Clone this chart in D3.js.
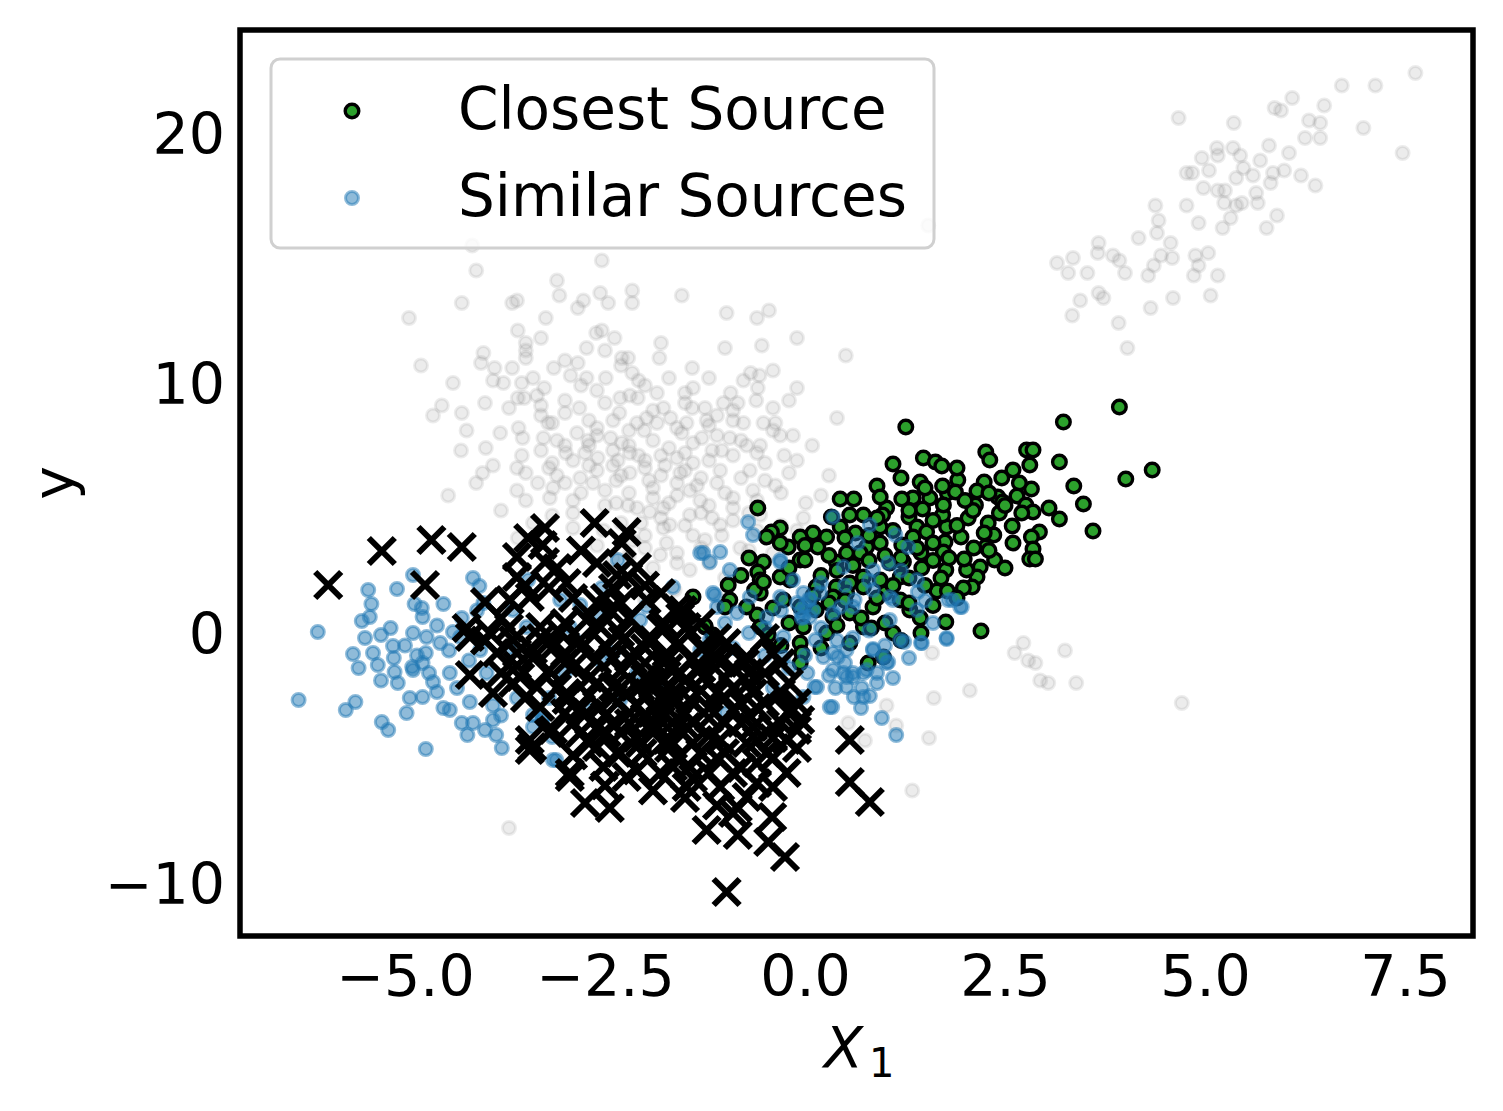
<!DOCTYPE html>
<html>
<head>
<meta charset="utf-8">
<script src="https://cdn.jsdelivr.net/npm/d3@7"></script>
<style>
  body { margin: 0; background: #fff; }
  text { font-family: "DejaVu Sans", sans-serif; }
</style>
</head>
<body>
<svg id="chart"></svg>
<script>
// tick values
const xTicks = [-5, -2.5, 0, 2.5, 5, 7.5];
const yTicks = [-10, 0, 10, 20];
const legendLabels = ["Closest Source", "Similar Sources"];

// all sources (grey background)
const otherPts = [
  // upper right arm
  [7.63,22.4],[6.71,21.9],[7.13,21.9],[6.09,21.4],[6.49,21.1],[5.87,21.0],[5.95,20.9],[4.67,20.6],[5.36,20.4],[6.3,20.5],
  [6.44,20.4],[6.98,20.2],[6.25,19.8],[6.44,19.8],[5.8,19.5],[5.15,19.4],[5.35,19.4],[7.47,19.2],[4.96,19.0],[5.16,19.1],
  [5.44,19.1],[6.05,19.2],[5.69,18.9],[4.77,18.4],[4.84,18.4],[5.05,18.5],[5.48,18.6],[5.85,18.4],[5.99,18.5],[5.39,18.2],
  [5.6,18.3],[6.2,18.3],[6.38,17.9],[5.82,18.0],[4.98,17.8],[5.16,17.7],[5.25,17.7],[5.64,17.6],[5.24,17.2],[5.39,17.1],
  [5.46,17.2],[5.66,17.2],[4.38,17.1],[4.77,17.1],[4.42,16.5],[5.32,16.6],[5.9,16.7],[4.92,16.4],[5.22,16.2],[5.77,16.2],
  [4.4,16.0],[4.17,15.8],[3.67,15.6],[4.57,15.6],[3.66,15.2],[3.85,15.1],[3.93,14.9],[4.45,15.1],[4.59,15.0],[4.88,15.1],
  [5.04,15.2],[3.15,14.8],[3.35,15.0],[3.29,14.4],[3.53,14.4],[4.0,14.4],[4.36,14.7],[4.92,14.7],[4.29,14.3],[4.86,14.3],
  [5.16,14.3],[3.67,13.6],[3.73,13.4],[3.44,13.3],[4.6,13.4],[5.07,13.5],[4.32,13.0],[3.34,12.7],[3.92,12.4],[1.54,16.3],
  [4.03,11.4],
  // lower right
  [2.73,-0.4],[2.62,-0.8],[2.79,-1.1],[2.88,-1.2],[3.25,-0.7],[2.94,-1.9],[3.04,-2.0],[3.39,-2.0],[2.06,-2.3],[1.61,-2.6],
  [1.59,-0.8],[4.71,-2.8],[1.02,-2.9],[1.14,-3.7],[1.55,-4.2],[1.34,-6.3],[0.75,-4.3],[0.54,-3.6],
  // main cloud
  [-4.11,14.5],[-3.1,14.1],[-3.07,13.5],[-4.95,12.6],[-4.29,13.2],[-3.66,13.2],[-3.6,13.3],[-3.24,12.6],[-2.84,13.0],[-2.77,13.3],
  [-2.56,13.6],[-2.46,13.2],[-2.16,13.7],[-2.16,13.2],[-1.54,13.5],[-0.98,12.8],[-0.6,12.6],[-0.45,12.9],[-0.1,11.8],[-1.0,11.4],
  [-0.54,11.5],[0.51,11.1],[-3.59,12.1],[-3.49,11.6],[-3.49,11.3],[-3.49,11.0],[-4.02,11.2],[-4.05,10.8],[-3.88,10.6],[-3.9,10.1],
  [-3.77,10.0],[-3.66,10.6],[-3.4,10.2],[-3.54,10.0],[-3.26,9.8],[-3.14,10.6],[-2.93,10.3],[-2.84,10.8],[-2.73,11.4],[-2.73,10.2],
  [-2.61,12.0],[-2.54,12.1],[-2.38,11.8],[-2.5,11.3],[-2.49,10.2],[-2.29,11.0],[-2.21,11.0],[-2.16,10.4],[-2.08,10.1],[-1.82,11.0],
  [-1.41,10.6],[-1.4,9.8],[-1.5,9.6],[-0.77,10.1],[-0.68,10.4],[-0.57,10.3],[-0.4,10.5],[-0.59,9.8],[-0.1,9.8],[-0.2,9.3],
  [-0.93,9.6],[-0.61,9.3],[-1.02,9.2],[-0.84,9.2],[-3.51,9.4],[-3.59,9.4],[-3.35,9.5],[-3.0,9.3],[-2.82,9.0],[-4.0,9.2],
  [-4.54,9.1],[-4.65,8.7],[-4.29,8.8],[-4.23,8.1],[-3.81,8.0],[-3.99,7.4],[-3.58,8.2],[-3.53,7.8],[-4.03,6.4],[-4.11,6.0],
  [-4.46,5.5],[-3.6,5.7],[-3.49,5.3],[-3.54,7.1],[-3.49,6.4],[-3.34,6.0],[-3.16,8.4],[-3.21,8.4],[-3.27,7.8],[-3.1,7.7],
  [-2.85,8.0],[-2.99,7.2],[-3.16,6.8],[-2.6,8.2],[-2.71,7.7],[-2.75,7.2],[-2.59,7.0],[-2.5,9.2],[-2.32,8.8],[-2.31,9.4],
  [-2.19,9.5],[-2.09,9.4],[-1.85,9.6],[-1.77,9.0],[-1.98,8.6],[-1.85,8.4],[-2.01,8.1],[-1.68,8.6],[-2.43,7.8],[-2.29,7.6],
  [-2.08,7.1],[-2.19,7.2],[-2.34,6.9],[-2.36,6.1],[-2.81,6.2],[-2.65,6.0],[-3.0,6.0],[-3.15,5.8],[-3.19,5.4],[-2.19,6.4],
  [-2.36,5.2],[-2.21,5.1],[-2.0,6.6],[-1.9,5.8],[-1.77,5.0],[-1.6,7.0],[-1.54,8.0],[-1.48,8.4],[-1.41,9.0],[-1.25,9.0],
  [-1.23,8.5],[-1.29,7.8],[-1.16,7.3],[-1.4,6.8],[-1.56,6.4],[-1.44,5.7],[-1.31,5.3],[-1.06,6.5],[-1.04,7.3],[-0.94,7.8],
  [-0.9,8.5],[-0.77,8.4],[-0.73,7.5],[-0.56,7.5],[-0.5,6.8],[-0.69,6.5],[-0.52,8.4],[-0.37,8.4],[-0.31,7.9],[-0.15,7.9],
  [0.09,7.5],[-0.26,7.1],[-0.37,5.9],[-0.65,5.7],[-0.9,5.4],[0.01,5.2],[-0.02,4.6],[-1.16,4.6],[-1.04,3.9],[-1.77,4.2],
  [-1.73,3.6],[-2.15,3.7],[-2.9,4.8],[-3.16,4.7],[-2.52,4.1],[-3.59,3.8],[-4.16,15.5],[-2.54,14.9],[-3.7,-7.8],
  [-1.94,4.84],[-1.69,4.32],[-1.44,4.72],[-1.25,3.72],[-1.06,4.32],[-0.81,3.4],[-1.81,3.12],[-1.44,2.52],[-0.56,4.72],
  [-0.31,3.72],[-1.63,1.72],[-1.06,1.32],[-2.0,1.32],
  [-3.2,6.6],[-2.9,6.9],[-2.6,6.5],[-2.4,6.7],[-2.0,6.9],[-1.8,6.3],[-1.6,6.0],[-1.3,6.2],[-1.1,6.0],[-0.8,6.2],
  [-2.8,5.6],[-2.5,5.7],[-2.2,5.6],[-1.9,5.4],[-1.6,5.5],[-1.2,5.1],[-0.9,5.0],[-0.6,5.3],[-0.3,5.6],[-0.2,6.4],
  [-3.0,7.5],[-2.7,7.5],[-2.4,7.3],[-2.2,8.1],[-1.9,7.7],[-1.7,7.4],[-1.4,7.6],[-1.1,7.9],[-0.9,7.1],[-0.6,7.2],
  [-3.3,8.7],[-3.0,8.8],[-2.7,8.5],[-2.1,8.4],[-1.6,8.2],[-1.2,8.3],[-0.9,8.9],[-0.4,9.0],[-2.6,9.7],[-2.0,9.9],
  [-1.7,10.2],[-1.2,10.2],[-3.0,10.9],[-2.3,10.7],[-1.8,11.6],[-3.3,11.8],
  [-2.9,4.2],[-2.6,3.5],[-2.3,4.4],[-2.0,3.9],[-1.6,3.2],[-1.4,3.9],[-1.2,2.8],[-0.9,4.5],[-0.6,4.1],[-0.3,4.3],
  [-3.4,4.4],[-3.8,4.9],[-3.9,6.7],[-4.3,7.3],[-3.7,9.0],[-4.4,10.0],[-4.8,10.7],[-0.1,6.9],[0.3,6.3],[0.4,8.6],
  [-1.9,2.6],[-2.2,3.1],[-1.0,2.2],[-0.7,3.3],
  [-2.1,5.0],[-1.95,6.1],[-1.75,6.7],[-1.5,6.5],[-1.35,5.9],[-1.7,5.2],[-2.05,4.4],[-1.8,4.6],[-1.5,4.3],[-1.3,4.8],
  [-2.3,6.3],[-2.5,5.1],[-2.7,6.7],[-2.4,8.5],[-1.9,8.9],[-1.5,9.2],[-1.1,8.7],[-0.8,7.7],[-0.5,6.1],[-0.7,4.8],
  [-1.0,5.6],[-1.2,6.9],[-1.5,7.2],[-1.8,7.1],[-2.2,7.5],[-2.6,7.9],[-2.9,5.3],[-3.1,6.3],[-3.3,7.3],[-3.6,6.6],
  [-2.0,3.4],[-1.6,2.8],[-1.3,3.4],[-2.4,3.0],[-0.4,3.2],[-0.1,4.1],[0.2,5.5],[-0.4,8.1],[-2.8,9.9],[-3.3,9.1]
];

// similar sources (blue)
const similarPts = [
  [-4.9,2.32],[-5.46,1.72],[-5.1,1.76],[-5.42,1.16],[-5.54,0.48],[-5.44,0.64],[-6.09,0.04],[-5.3,-0.08],[-5.18,0.2],[-5.15,-0.52],
  [-5.65,-0.84],[-5.4,-0.8],[-5.58,-1.4],[-5.34,-1.28],[-5.14,-1.0],[-5.13,-1.56],[-5.09,-2.0],[-4.91,-1.36],[-6.33,-2.68],[-5.74,-3.08],
  [-5.62,-2.76],[-5.29,-3.56],[-5.21,-3.88],[-4.98,-3.2],[-4.94,-2.6],[-4.74,-4.64],[-4.88,1.16],[-4.79,1.0],[-4.78,0.64],[-4.52,1.16],
  [-4.9,0.0],[-4.73,-0.16],[-4.74,-0.8],[-4.56,-0.4],[-4.9,-1.48],[-4.78,-1.2],[-4.65,-1.96],[-4.78,-2.56],[-4.6,-2.36],[-4.52,-3.0],
  [-4.44,-3.08],[-4.31,-0.16],[-4.29,0.6],[-4.4,0.04],[-4.44,-1.6],[-4.29,-3.6],[-4.22,-4.08],[-4.15,-3.6],[-4.0,-3.88],[-4.19,-2.76],
  [-3.9,-3.48],[-3.86,-4.08],[-3.79,-4.6],[-4.15,2.2],[-4.07,1.88],[-4.02,1.2],[-4.06,-0.68],[-3.98,-1.6],[-3.65,0.92],[-3.48,0.24],
  [-3.46,2.12],[-2.34,2.92],[-1.65,1.84],[-2.54,1.8],[-2.81,1.12],[-1.98,1.08],[-3.4,-3.28],[-3.16,-4.16],[-3.11,-5.08],[-3.28,-3.48],
  [-2.94,0.24],
  [-5.0,-0.5],[-4.85,-0.9],[-4.7,-1.6],[-4.6,0.3],[-4.45,-0.7],[-4.35,-2.2],[-4.2,-1.1],[-4.1,0.9],[-3.9,-2.9],[-3.7,-0.6],
  [-3.6,-2.6],[-3.8,-3.3],[-3.2,-2.6],[-3.0,-1.6],[-2.7,-3.1],[-2.6,0.8],[-2.4,-0.8],[-2.1,-1.6],[-5.3,-1.9],[-5.5,-0.2],
  [1.94,1.04],[1.77,-0.24],[1.45,-0.4],[1.24,-0.36],[1.06,0.52],[0.85,-0.64],[1.04,-1.16],[0.9,-1.6],[0.73,-1.6],[0.81,-2.52],
  [0.61,-2.56],[0.71,-2.2],[0.96,-3.4],[1.14,-4.08],[0.41,-0.96],[0.52,-1.76],[0.38,-2.2],[0.34,-2.96],[0.44,1.04],[0.62,1.32],
  [1.06,1.44],[1.41,1.64],[1.84,1.32],
  [-0.71,4.44],[-0.65,3.92],[-1.06,3.24],[-1.27,3.2],[-1.15,1.6],[-0.31,2.84],[-0.94,2.52],[0.35,4.64],[0.81,4.32],[1.13,3.92],
  [1.29,3.44],[0.66,3.6],[0.48,2.64],[0.85,2.52],[1.04,2.8],[1.4,2.12],[-0.15,2.12],[0.06,1.32],[-0.02,0.64],[0.35,0.8],
  [0.6,1.04],[0.85,1.72],[1.1,1.32],[1.4,0.92],[1.79,1.32],[1.96,1.04],[1.77,-0.2],[1.46,-0.4],[1.19,-0.28],[0.98,-0.96],
  [0.85,-0.68],[0.52,-0.68],[0.23,-0.96],[0.35,-1.48],[0.13,-0.28],[-0.27,-0.16],[-0.48,0.64],[-0.69,1.44],[-0.31,1.44],[0.19,1.6],
  [-0.02,1.6],[-0.04,0.6],[0.6,-1.6],[0.77,-1.48],[1.02,-1.2],
  [-1.31,3.2],[-1.19,2.84],[-1.13,1.52],[-1.1,1.04],[-0.85,0.8],[-1.19,-0.28],[-0.31,2.92],[0.06,0.64],[-0.27,-0.96],[0.03,-1.6],
  [0.15,-2.16],[0.35,-0.8],[0.48,-1.6],[0.6,-1.76],
  [-0.02,-2.56],[0.12,-2.16],[0.31,-2.96],[0.52,-2.16],[0.73,-2.56],[-0.4,-2.2],[-0.98,-3.2],[-3.15,-5.08],[-3.4,-3.76],[-3.28,-3.36],
  [-2.88,-0.28],[-2.56,-1.08],[-2.06,0.52],[-1.81,-2.28],[-1.31,-0.68],[-2.31,-2.68],[-3.06,1.32],
  [0.0,1.1],[0.1,0.9],[-0.1,1.2],[0.05,1.35],[-0.05,0.85],
  [0.2,0.2],[0.4,-0.3],[0.6,-0.2],[0.8,0.1],[1.0,-0.5],[0.5,-1.2],[0.3,-1.7],[0.9,-2.0],[0.0,-0.9],[-0.2,-1.4],
  [-0.5,0.2],[-0.7,0.0],[-0.9,-0.6],[-1.0,0.4],[-0.3,0.9],[0.2,2.0],[0.5,1.9],[0.8,2.1],[1.2,2.5],[1.5,1.3],
  [1.6,0.4],[1.3,-1.0],[1.1,-1.8],[0.7,-3.0],[-0.5,-0.9]
];

// closest source (green)
const closestPts = [
  [3.93,9.04],[3.23,8.44],[1.26,8.24],[4.34,6.52],[4.01,6.16],[3.6,4.08],[3.48,5.16],[3.36,5.88],[3.18,6.84],[3.05,5.0],
  [3.18,4.56],[2.77,7.32],[2.85,7.32],[2.81,6.72],[2.83,5.76],[2.68,6.0],[2.65,5.48],[2.6,6.52],[2.46,6.2],[2.76,5.12],
  [2.85,4.84],[2.71,4.8],[2.59,4.28],[2.93,4.04],[2.83,3.84],[2.85,3.36],[2.81,2.96],[2.88,2.96],[2.26,7.24],[2.31,6.92],
  [2.24,6.04],[2.15,5.68],[2.13,5.12],[2.41,5.44],[2.47,5.24],[2.43,4.8],[2.29,4.4],[2.36,3.92],[2.24,4.0],[2.37,2.92],
  [2.26,3.44],[2.11,3.4],[2.19,2.64],[2.15,2.24],[2.09,1.84],[1.98,1.8],[2.02,2.52],[1.99,2.96],[1.91,6.12],[1.78,5.6],
  [1.72,5.88],[1.88,5.64],[2.04,4.6],[1.95,3.84],[1.77,4.24],[1.72,4.72],[1.75,3.64],[1.76,2.52],[1.73,3.24],[1.65,1.68],
  [1.78,1.68],[1.76,0.44],[1.48,7.0],[1.63,6.84],[1.71,6.68],[1.44,6.04],[1.56,5.4],[1.73,5.12],[1.47,4.96],[1.35,5.4],
  [1.21,5.36],[1.3,4.64],[1.4,4.24],[1.52,4.04],[1.35,3.84],[1.6,3.6],[1.45,3.2],[1.21,3.52],[1.02,5.0],[0.97,4.72],
  [1.1,6.76],[0.9,5.88],[0.94,5.44],[0.73,4.72],[0.56,4.72],[0.44,5.36],[0.61,5.36],[0.33,4.64],[0.44,4.24],[0.63,4.0],
  [0.94,4.24],[0.94,3.6],[0.77,3.44],[0.69,3.2],[0.52,3.2],[0.27,3.84],[0.16,3.44],[0.1,4.0],[-0.06,3.84],[-0.21,3.44],
  [-0.31,4.2],[-0.42,4.04],[-0.48,3.84],[-0.06,2.92],[0.0,2.92],[0.39,2.84],[1.06,2.8],[1.23,2.84],[1.46,2.6],[1.19,2.24],
  [0.94,2.12],[0.73,2.24],[0.56,2.0],[0.39,1.84],[0.14,1.84],[-0.19,2.12],[-0.31,2.24],[-0.52,2.84],[-0.59,2.44],[-0.56,2.12],
  [-0.56,1.6],[-0.6,0.72],[-0.56,0.24],[-0.96,1.92],[-0.94,1.32],[-0.73,1.04],[-1.25,0.24],[-0.46,-0.08],[-0.27,1.32],[-0.06,1.04],
  [0.14,0.92],[0.35,1.44],[0.52,1.6],[0.73,1.84],[1.0,1.6],[1.19,1.32],[1.31,0.92],[1.44,0.6],[0.85,1.04],[0.56,0.8],
  [0.35,0.64],[0.27,0.0],[-0.02,0.24],[0.73,0.24],[0.83,0.2],[1.45,0.0],[1.1,0.0],[0.56,-0.4],[-0.06,-0.4],[-0.04,-0.8],
  [0.79,-1.2],[0.98,-0.96],[2.2,0.08],[-0.31,3.6],[-0.59,5.0],
  [-1.4,1.44],[-1.25,0.28],[-1.15,-0.08],[-1.0,1.04],[-0.06,-1.2],[-0.63,1.72],[-0.52,2.04],
  [0.2,2.3],[0.4,2.5],[0.6,2.7],[0.8,2.9],[1.0,3.1],[1.2,3.0],[1.4,3.4],[1.6,2.9],[1.8,3.0],[0.3,3.1],
  [0.5,3.8],[0.8,3.9],[1.1,4.1],[1.3,4.9],[1.6,4.5],[1.9,4.3],[2.1,4.9],[2.3,5.6],[2.5,5.1],[0.9,4.6],
  [0.1,1.5],[0.3,1.2],[0.5,1.3],[0.9,1.4],[1.1,1.9],[1.3,2.2],[1.5,1.9],[1.7,2.2],[0.7,0.6],[1.0,0.4],
  [1.2,-0.3],[0.4,0.3],[0.2,-0.6],[-0.2,0.4],[-0.3,-0.5],[-0.4,1.0],[-0.8,2.3],[-0.7,3.0],[-0.2,2.6],[0.0,3.5],
  [1.5,5.8],[1.9,6.6],[1.2,6.2],[2.0,5.3],[2.6,3.6],[2.5,2.6],[2.3,3.3],[1.9,1.4],[1.3,1.2],[1.6,1.1]
];

// training samples (black crosses)
const trainPts = [
  [-5.96,1.92],[-5.29,3.28],[-4.67,3.72],[-4.29,3.44],[-4.75,1.92],[-3.46,3.8],[-3.25,4.2],[-3.28,3.52],[-2.63,4.4],[-2.23,4.04],
  [-2.29,3.6],[-3.6,3.04],[-3.25,2.84],[-3.6,2.24],[-2.98,2.0],[-3.44,1.44],[-3.69,1.32],[-4.0,1.24],[-2.21,2.24],[-2.1,2.64],
  [-2.35,2.32],[-2.6,1.2],[-2.44,0.92],[-1.98,1.32],[-1.56,0.64],[-1.77,0.4],[-4.23,0.2],[-4.19,-0.16],[-3.94,0.0],[-3.65,-0.28],
  [-3.31,0.24],[-3.15,-0.56],[-4.19,-1.68],[-3.85,-0.8],[-3.9,-2.4],[-3.56,-1.76],[-3.65,-2.0],[-3.35,-2.16],[-3.4,-1.0],[-2.9,-1.36],
  [-2.98,-2.4],[-2.81,-0.28],[-2.6,-1.08],[-2.56,0.24],[-2.28,-0.28],[-2.15,-1.08],[-1.9,-0.28],[-1.73,-0.8],[-1.44,0.0],[-2.4,-2.16],
  [-2.06,-2.16],[-1.77,-1.88],[-1.56,-1.6],[-3.44,-4.28],[-3.44,-4.68],[-2.94,-5.6],[-2.73,-3.2],[-2.48,-4.0],[-2.19,-3.2],[-1.9,-2.96],
  [-1.65,-2.68],[-1.44,-2.68],[-2.35,-4.8],[-2.03,-4.8],[-1.69,-4.28],[-1.48,-3.76],[-2.23,-5.76],[-1.81,-5.6],[-1.44,-5.36],
  [-3.41,-4.56],[-2.94,-5.76],[-2.75,-6.8],[-2.44,-7.0],[-1.23,-7.88],[-0.84,-8.08],[-0.98,-10.36],[-0.41,-7.36],[-0.46,-8.36],[-0.25,-8.96],
  [-0.84,-7.0],[0.56,-4.28],[0.56,-5.96],[0.81,-6.76],[-0.98,-0.4],[-0.4,-0.8],[-0.65,-2.4],[-0.15,-3.08],[-0.06,-3.48],[-0.23,-5.6],
  [-0.4,-6.16],[-0.73,-6.56],[-0.9,-7.2],[-1.06,-6.16],[-1.48,-6.16],[-1.65,-5.36],[-1.31,-4.8],[-1.73,-4.28],[-1.06,-4.28],[-0.73,-4.4],
  [-0.48,-4.8],[-0.23,-4.28],[-0.1,-3.88],[-0.4,-3.76],[-0.65,-3.76],[-0.9,-3.08],[-1.1,-2.4],[-1.27,-1.76],[-1.06,-1.2],[-0.73,-0.96],
  [-1.6,-2.68],[-1.81,-3.48],[-2.06,-4.4],[-2.31,-4.8],[-2.52,-5.36],[-2.6,-4.56],[-2.81,-4.0],[-3.15,-3.88],[-3.31,-2.96],[-2.98,-2.68],
  [-2.56,-2.96],[-2.23,-2.4],[-1.94,-1.88],[-1.73,-1.08],[-1.98,-0.28],[-2.31,0.0],[-2.73,0.52],[-3.06,0.0],[-3.4,-0.68],[-1.48,0.24],
  [-1.53,0.92],[-0.75,-1.2],
  [-1.9,-2.0],[-1.7,-2.6],[-2.1,-2.9],[-1.5,-3.2],[-2.3,-1.5],[-1.2,-3.0],[-1.0,-3.6],[-0.8,-2.8],[-2.7,-1.8],[-3.0,-0.8],
  [-2.5,-0.5],[-2.0,-1.2],[-1.4,-1.0],[-1.1,-0.2],[-0.5,-1.6],[-0.3,-2.4],[-0.1,-4.6],[-0.6,-5.2],[-1.2,-5.6],[-1.9,-4.0],
  [-2.4,-3.6],[-3.0,-3.2],[-3.6,-0.8],[-3.8,0.6],[-2.6,2.8],[-2.4,1.8],[-1.8,1.6],[-3.2,1.8],[-1.3,0.4],[-0.5,-0.2],
  [-2.6,-2.0],[-2.4,-2.6],[-2.2,-3.6],[-2.0,-3.4],[-1.8,-3.1],[-1.6,-3.8],[-1.4,-4.4],[-1.2,-4.1],[-1.0,-4.8],[-0.8,-5.4],
  [-0.6,-4.3],[-0.4,-5.0],[-0.2,-3.2],[-0.7,-3.3],[-0.9,-2.2],[-1.3,-2.3],[-1.5,-1.9],[-1.7,-2.2],[-2.0,-2.5],[-2.3,-2.2],
  [-2.5,-3.3],[-2.7,-2.5],[-2.9,-3.6],[-3.1,-2.2],[-3.2,-1.5],[-3.3,-0.2],[-3.0,0.4],[-2.8,-0.6],[-2.2,0.6],[-1.8,0.2],
  [-1.6,-0.5],[-1.3,-1.4],[-1.0,-1.8],[-0.7,-2.0],[-0.3,-1.2],[-2.1,-5.5],[-1.6,-5.0],[-1.9,-6.3],[-1.5,-6.6],[-1.1,-6.9],
  [-2.5,-6.1],[-2.9,-4.9],[-3.6,-1.3],[-3.8,-1.6],[-4.0,-0.3],[-3.5,1.9],[-3.1,2.6],[-2.8,3.3],[-2.0,1.9],[-2.5,1.4],
  [-2.2,-1.0],[-2.0,-1.8],[-1.8,-2.6],[-1.6,-3.4],[-1.4,-3.6],[-1.2,-3.4],[-1.0,-2.6],[-0.8,-3.6],[-0.6,-3.0],[-0.4,-4.2],
  [-1.9,-3.6],[-2.1,-4.2],[-2.3,-4.0],[-2.6,-3.8],[-2.8,-3.0],[-2.4,-1.0],[-2.0,-0.6],[-1.7,-1.4],[-1.3,-0.6],[-1.1,-1.0],
  [-0.9,-1.4],[-0.7,-1.6],[-0.5,-2.8],[-0.3,-3.6],[-1.1,-5.0],[-0.9,-5.6],[-0.6,-6.0],[-1.4,-5.8],[-1.7,-4.6],[-2.7,-4.4],
  [-3.2,-4.0],[-3.0,-1.2],[-3.5,-2.6],[-3.7,0.2],[-2.9,1.4],[-2.3,1.2],[-1.6,1.0],[-1.2,-0.8],[-0.2,-2.0],[-0.1,-2.8]
];

const W = 1503, H = 1111;
const plot = {left: 240, right: 1473, top: 30, bottom: 936};
const fontSize = 57;

const svg = d3.select("#chart")
  .attr("width", W)
  .attr("height", H);

const x = d3.scaleLinear()
  .domain([-7.0625, 8.35])
  .range([plot.left, plot.right]);

const y = d3.scaleLinear()
  .domain([-12.12, 24.12])
  .range([plot.bottom, plot.top]);

svg.append("clipPath").attr("id", "clip")
  .append("rect")
  .attr("x", plot.left).attr("y", plot.top)
  .attr("width", plot.right - plot.left)
  .attr("height", plot.bottom - plot.top);

const g = svg.append("g").attr("clip-path", "url(#clip)");

// grey: every source
g.append("g").selectAll("circle")
  .data(otherPts)
  .join("circle")
  .attr("cx", d => x(d[0]))
  .attr("cy", d => y(d[1]))
  .attr("r", 6.5)
  .attr("fill", "#808080").attr("fill-opacity", 0.15)
  .attr("stroke", "#808080").attr("stroke-opacity", 0.15)
  .attr("stroke-width", 3);

// green: closest source
g.append("g").selectAll("circle")
  .data(closestPts)
  .join("circle")
  .attr("cx", d => x(d[0]))
  .attr("cy", d => y(d[1]))
  .attr("r", 6.8)
  .attr("fill", "#2ca02c")
  .attr("stroke", "#000")
  .attr("stroke-width", 3.4);

// blue: similar sources
g.append("g").selectAll("circle")
  .data(similarPts)
  .join("circle")
  .attr("cx", d => x(d[0]))
  .attr("cy", d => y(d[1]))
  .attr("r", 6.5)
  .attr("fill", "#1f77b4").attr("fill-opacity", 0.5)
  .attr("stroke", "#1f77b4").attr("stroke-opacity", 0.5)
  .attr("stroke-width", 3);

// black crosses
const cross = 13;
g.append("g").selectAll("path")
  .data(trainPts)
  .join("path")
  .attr("transform", d => `translate(${x(d[0])},${y(d[1])})`)
  .attr("d", `M${-cross},${-cross}L${cross},${cross}M${-cross},${cross}L${cross},${-cross}`)
  .attr("stroke", "#000")
  .attr("stroke-width", 6)
  .attr("fill", "none");

// frame
svg.append("rect")
  .attr("x", plot.left).attr("y", plot.top)
  .attr("width", plot.right - plot.left)
  .attr("height", plot.bottom - plot.top)
  .attr("fill", "none")
  .attr("stroke", "#000")
  .attr("stroke-width", 5.5);

const minus = s => s.replace("-", "\u2212");

// x axis
const xAxis = svg.append("g")
  .attr("transform", `translate(0,${plot.bottom})`)
  .call(d3.axisBottom(x).tickValues(xTicks).tickSize(0)
    .tickFormat(d => minus(d3.format(".1f")(d))));
xAxis.select(".domain").remove();
xAxis.selectAll("text")
  .attr("y", 60).attr("dy", null)
  .attr("fill", "#000")
  .style("font-family", "DejaVu Sans")
  .style("font-size", fontSize + "px");

// y axis
const yAxis = svg.append("g")
  .attr("transform", `translate(${plot.left},0)`)
  .call(d3.axisLeft(y).tickValues(yTicks).tickSize(0)
    .tickFormat(d => minus(String(d))));
yAxis.select(".domain").remove();
yAxis.selectAll("text")
  .attr("x", -15).attr("dy", "0.36em")
  .attr("fill", "#000")
  .style("font-family", "DejaVu Sans")
  .style("font-size", fontSize + "px");

// axis labels
const xl = svg.append("text")
  .attr("x", 824).attr("y", 1068)
  .style("font-size", fontSize + "px");
xl.append("tspan").attr("font-style", "italic").text("X");
svg.append("text")
  .attr("x", 869).attr("y", 1077)
  .style("font-size", "40px")
  .text("1");

svg.append("text")
  .attr("transform", `translate(73,${(plot.top + plot.bottom) / 2}) rotate(-90)`)
  .attr("text-anchor", "middle")
  .style("font-size", fontSize + "px")
  .text("y");

// legend
const legend = svg.append("g");
legend.append("rect")
  .attr("x", 271).attr("y", 59)
  .attr("width", 663).attr("height", 189)
  .attr("rx", 9)
  .attr("fill", "#fff").attr("fill-opacity", 0.8)
  .attr("stroke", "#d0d0d0").attr("stroke-width", 3);

legend.append("circle")
  .attr("cx", 352).attr("cy", 111).attr("r", 6.8)
  .attr("fill", "#2ca02c").attr("stroke", "#000").attr("stroke-width", 3.4);
legend.append("circle")
  .attr("cx", 352).attr("cy", 198).attr("r", 6.5)
  .attr("fill", "#1f77b4").attr("fill-opacity", 0.5)
  .attr("stroke", "#1f77b4").attr("stroke-opacity", 0.5).attr("stroke-width", 3);

legend.selectAll("text.lab")
  .data(legendLabels)
  .join("text")
  .attr("class", "lab")
  .attr("x", 458)
  .attr("y", (d, i) => 129 + i * 87)
  .style("font-size", "58px")
  .text(d => d);
</script>
</body>
</html>
